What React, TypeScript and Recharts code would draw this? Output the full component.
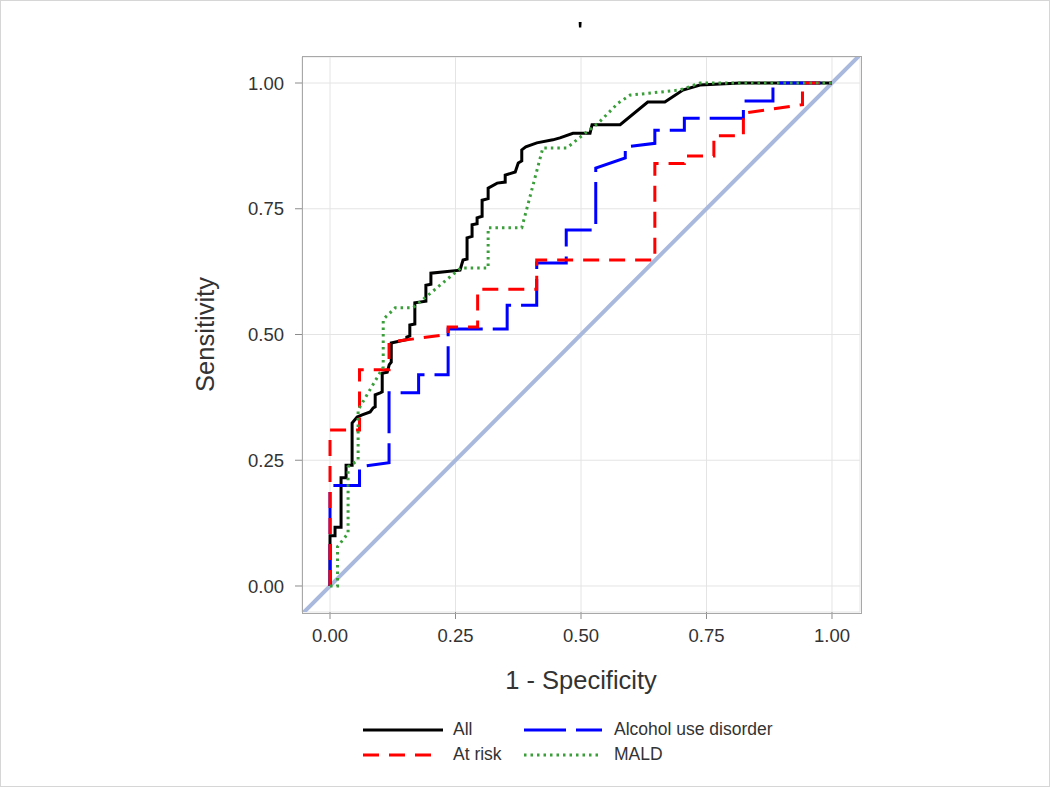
import React from "react";
import { ComposedChart, Line, XAxis, YAxis, CartesianGrid } from "recharts";

// ROC curves (1 - specificity, sensitivity)
const allFpr = [
  0, 0, 0.01, 0.01, 0.022, 0.022, 0.032, 0.032, 0.044, 0.044, 0.054, 0.064, 0.08, 0.086, 0.09, 0.09,
  0.1, 0.104, 0.104, 0.114, 0.118, 0.122, 0.122, 0.153, 0.153, 0.159, 0.159, 0.169, 0.169, 0.191,
  0.191, 0.201, 0.201, 0.259, 0.265, 0.273, 0.273, 0.283, 0.283, 0.293, 0.293, 0.303, 0.303, 0.315,
  0.315, 0.333, 0.349, 0.349, 0.369, 0.375, 0.382, 0.382, 0.39, 0.412, 0.444, 0.458, 0.484, 0.518,
  0.522, 0.578, 0.633, 0.667, 0.703, 0.737, 0.817, 1,
];
const allTpr = [
  0, 0.1, 0.1, 0.117, 0.117, 0.215, 0.215, 0.24, 0.24, 0.324, 0.336, 0.34, 0.346, 0.354, 0.356, 0.38,
  0.384, 0.386, 0.423, 0.425, 0.44, 0.445, 0.483, 0.49, 0.495, 0.497, 0.519, 0.521, 0.563, 0.566,
  0.598, 0.6, 0.622, 0.628, 0.648, 0.65, 0.692, 0.695, 0.718, 0.72, 0.732, 0.735, 0.767, 0.77,
  0.791, 0.801, 0.803, 0.817, 0.823, 0.841, 0.845, 0.867, 0.873, 0.881, 0.887, 0.891, 0.9, 0.9,
  0.917, 0.917, 0.962, 0.962, 0.986, 0.996, 1, 1,
];

const atRiskFpr = [
  0, 0, 0.0588, 0.0588, 0.1176, 0.1176, 0.2353, 0.2353, 0.2941, 0.2941, 0.4118, 0.4118, 0.6471,
  0.6471, 0.7059, 0.7059, 0.7647, 0.7647, 0.8235, 0.8235, 0.9412, 0.9412, 1,
];
const atRiskTpr = [
  0, 0.31, 0.31, 0.43, 0.43, 0.485, 0.5, 0.515, 0.515, 0.59, 0.59, 0.648, 0.648, 0.84, 0.84, 0.855,
  0.855, 0.895, 0.895, 0.94, 0.957, 1, 1,
];

const audFpr = [
  0, 0, 0.0588, 0.0588, 0.1176, 0.1176, 0.1765, 0.1765, 0.2353, 0.2353, 0.3529, 0.3529, 0.4118,
  0.4118, 0.4706, 0.4706, 0.5294, 0.5294, 0.5882, 0.5882, 0.6471, 0.6471, 0.7059, 0.7059, 0.8235,
  0.8235, 0.8824, 0.8824, 1,
];
const audTpr = [
  0, 0.2, 0.2, 0.237, 0.245, 0.384, 0.384, 0.42, 0.42, 0.511, 0.511, 0.558, 0.558, 0.642, 0.642,
  0.708, 0.708, 0.831, 0.851, 0.873, 0.88, 0.906, 0.906, 0.93, 0.93, 0.964, 0.964, 1, 1,
];

const maldFpr = [
  0, 0.015, 0.015, 0.036, 0.036, 0.056, 0.056, 0.106, 0.106, 0.13, 0.165, 0.26, 0.315, 0.315, 0.382,
  0.424, 0.472, 0.504, 0.534, 0.574, 0.598, 0.697, 0.737, 1,
];
const maldTpr = [
  0, 0, 0.078, 0.105, 0.237, 0.25, 0.35, 0.435, 0.53, 0.553, 0.553, 0.632, 0.632, 0.712, 0.712,
  0.871, 0.871, 0.897, 0.92, 0.96, 0.976, 0.986, 1, 1,
];

const diagonal = [-0.06, 1.06];
const tickValues = [0, 0.25, 0.5, 0.75, 1];

const font = '"Liberation Sans", Arial, sans-serif';
const textColor = "#333";

const toPoints = (xs: number[], ys: number[]) => xs.map((x, i) => ({ x, y: ys[i] }));

const series = [
  { name: "All", data: toPoints(allFpr, allTpr), color: "#000000", dash: undefined, width: 3 },
  { name: "Alcohol use disorder", data: toPoints(audFpr, audTpr), color: "#0000ff", dash: "42 10", width: 3 },
  { name: "At risk", data: toPoints(atRiskFpr, atRiskTpr), color: "#ff0000", dash: "16 10", width: 3 },
  { name: "MALD", data: toPoints(maldFpr, maldTpr), color: "#3a9e3a", dash: "2.5 4", width: 3 },
];

// legend order in the picture: row 1 All / Alcohol use disorder, row 2 At risk / MALD
const legendSlots = [
  { name: "All", left: 363, top: 730 },
  { name: "Alcohol use disorder", left: 524, top: 730 },
  { name: "At risk", left: 363, top: 755 },
  { name: "MALD", left: 524, top: 755 },
];

const W = 1050;
const H = 787;

export default function App() {
  return (
    <div
      style={{
        position: "fixed",
        left: 0,
        top: 0,
        width: W,
        height: H,
        background: "#fff",
        fontFamily: font,
      }}
    >
      <ComposedChart
        width={W}
        height={H}
        margin={{ top: 57, right: 190, left: 242, bottom: 145 }}
      >
        <CartesianGrid stroke="#e4e4e4" strokeWidth={1} />
        <XAxis
          dataKey="x"
          type="number"
          domain={[-0.0558, 1.0558]}
          allowDataOverflow
          ticks={tickValues}
          tickFormatter={(v) => Number(v).toFixed(2)}
          tick={{ fill: textColor, fontSize: 18.5, fontFamily: font }}
          tickSize={7}
          tickMargin={10}
          tickLine={{ stroke: "#8c8c8c" }}
          axisLine={false}
          height={30}
        />
        <YAxis
          dataKey="y"
          type="number"
          domain={[-0.0517, 1.0517]}
          allowDataOverflow
          ticks={tickValues}
          tickFormatter={(v) => Number(v).toFixed(2)}
          tick={{ fill: textColor, fontSize: 18.5, fontFamily: font }}
          tickSize={7}
          tickMargin={11}
          tickLine={{ stroke: "#8c8c8c" }}
          axisLine={false}
          width={60}
        />
        <Line
          data={diagonal.map((v) => ({ x: v, y: v }))}
          dataKey="y"
          type="linear"
          stroke="#a9b9de"
          strokeWidth={4}
          dot={false}
          activeDot={false}
          isAnimationActive={false}
          legendType="none"
        />
        {series.map((s) => (
          <Line
            key={s.name}
            name={s.name}
            data={s.data}
            dataKey="y"
            type="linear"
            stroke={s.color}
            strokeWidth={s.width}
            strokeDasharray={s.dash}
            dot={false}
            activeDot={false}
            isAnimationActive={false}
          />
        ))}
      </ComposedChart>

      {/* plot frame */}
      <div
        style={{
          position: "absolute",
          left: 302,
          top: 56,
          width: 558,
          height: 556,
          border: "1px solid #a8a8a8",
          pointerEvents: "none",
        }}
      />

      {/* title (just an apostrophe in the source) */}
      <div
        style={{
          position: "absolute",
          left: 0,
          width: W + 110,
          top: 17,
          textAlign: "center",
          fontSize: 22,
          fontWeight: "bold",
          color: "#000",
        }}
      >
        '
      </div>

      <div
        style={{
          position: "absolute",
          left: 431,
          width: 300,
          top: 666,
          textAlign: "center",
          fontSize: 25.5,
          color: textColor,
        }}
      >
        1 - Specificity
      </div>
      <div
        style={{
          position: "absolute",
          left: 205 - 100,
          top: 335 - 15,
          width: 200,
          textAlign: "center",
          fontSize: 25.5,
          color: textColor,
          transform: "rotate(-90deg)",
        }}
      >
        Sensitivity
      </div>

      {legendSlots.map((slot) => {
        const s = series.find((d) => d.name === slot.name)!;
        return (
          <div key={slot.name}>
            <svg
              width={82}
              height={8}
              style={{ position: "absolute", left: slot.left, top: slot.top - 4 }}
            >
              <line
                x1={0}
                x2={s.dash ? 78 : 80}
                y1={4}
                y2={4}
                stroke={s.color}
                strokeWidth={s.width}
                strokeDasharray={s.dash}
              />
            </svg>
            <div
              style={{
                position: "absolute",
                left: slot.left + 90,
                top: slot.top - 11,
                fontSize: 17.5,
                lineHeight: "20px",
                color: textColor,
                whiteSpace: "nowrap",
              }}
            >
              {slot.name}
            </div>
          </div>
        );
      })}

      {/* outer border of the image */}
      <div
        style={{
          position: "absolute",
          left: 0,
          top: 0,
          width: W,
          height: H,
          boxSizing: "border-box",
          border: "1px solid #d6d6d6",
          pointerEvents: "none",
        }}
      />
    </div>
  );
}
